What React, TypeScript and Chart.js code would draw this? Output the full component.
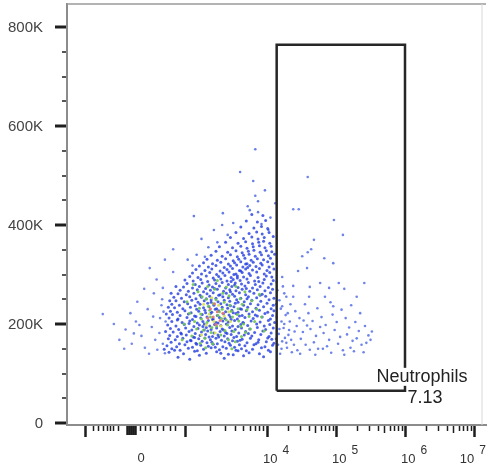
import { useEffect, useRef } from "react";
import { Chart, registerables } from "chart.js";
Chart.register(...registerables);

// x is in display decades (biexponential display: 4 = 10^4), y in thousands (K)
const X_MIN = 1.101;
const X_MAX = 7.174;
const Y_MIN = -4;
const Y_MAX = 846.5;

const yLabelTicks = [0, 200, 400, 600, 800];
const yMinorTicks = [50, 100, 150, 250, 300, 350, 450, 500, 550, 650, 700, 750];
const xMajorTicks = [1.362, 2.812, 4, 5, 6, 7];
const xZeroTicks = [1.971, 2.0, 2.029, 2.058, 2.087];
const xMinorTicks = [1.478, 1.551, 1.623, 1.681, 1.725, 1.768, 1.841, 2.159, 2.232, 2.304, 2.406, 2.493, 2.594, 2.667,
  3.174, 3.391, 3.536, 3.652, 3.754, 3.826, 3.884, 3.942];
const logFractions = [0.301, 0.477, 0.602, 0.699, 0.778, 0.845, 0.903, 0.954];
const logDecades = [4, 5, 6];
const xTickLabels = [
  { value: 2.174, base: "0", exp: "" },
  { value: 4, base: "10", exp: "4" },
  { value: 5, base: "10", exp: "5" },
  { value: 6, base: "10", exp: "6" },
  { value: 7, base: "10", exp: "7" },
];

const gateX = [4.14, 6.0];
const gateY = [65, 764];
const gateName = "Neutrophils";
const gateValue = "7.13";

const blueMain: [number, number][] = [
  [2.71,133],[3.02,137],[3.38,131],[3.66,136],[3.95,134],[2.88,129],[3.51,138],
  [2.58,143],[2.79,140],[2.95,145],[3.12,141],[3.27,144],[3.44,139],[3.58,146],[3.74,142],[3.89,140],[4.05,144],[2.66,147],[3.33,141],
  [2.62,150],[2.74,147],[2.86,151],[2.99,146],[3.08,149],[3.19,152],[3.31,148],[3.41,151],[3.55,147],[3.63,150],[3.79,149],[3.92,152],[4.02,147],[2.51,149],[3.70,146],
  [2.55,156],[2.69,154],[2.81,158],[2.92,153],[3.04,157],[3.15,155],[3.22,159],[3.36,154],[3.47,157],[3.53,153],[3.68,156],[3.81,158],[3.97,154],[4.08,157],[2.98,159],[3.25,153],[3.60,158],
  [2.61,163],[2.73,160],[2.84,164],[2.97,161],[3.06,165],[3.13,162],[3.28,160],[3.39,164],[3.45,161],[3.57,165],[3.71,162],[3.84,160],[3.99,164],[4.10,161],[2.90,166],[3.20,163],[3.50,166],[3.87,163],
  [2.57,170],[2.67,168],[2.78,171],[2.89,167],[3.01,170],[3.10,172],[3.18,168],[3.26,171],[3.34,167],[3.43,170],[3.52,173],[3.64,169],[3.76,171],[3.88,168],[4.01,172],[4.07,169],[2.95,173],[3.30,174],[3.61,167],
  [2.59,177],[2.70,175],[2.83,178],[2.93,174],[3.03,177],[3.11,179],[3.21,175],[3.29,178],[3.38,176],[3.48,179],[3.56,175],[3.67,178],[3.78,176],[3.91,179],[4.03,175],[2.76,180],[3.16,174],[3.42,181],
  [2.64,184],[2.75,182],[2.87,185],[2.96,181],[3.05,184],[3.14,186],[3.23,182],[3.32,185],[3.40,183],[3.49,186],[3.59,182],[3.69,185],[3.82,183],[3.94,186],[4.06,182],[2.53,185],[3.09,188],[3.37,188],[3.73,181],
  [2.60,191],[2.72,189],[2.82,192],[2.91,188],[3.00,191],[3.12,193],[3.19,189],[3.27,192],[3.35,190],[3.46,193],[3.54,189],[3.63,192],[3.75,190],[3.86,193],[3.98,189],[4.09,192],[3.07,195],[3.58,195],
  [2.56,198],[2.68,196],[2.80,199],[2.94,195],[3.02,198],[3.09,200],[3.17,196],[3.24,199],[3.33,197],[3.41,200],[3.50,196],[3.62,199],[3.72,197],[3.85,200],[3.96,196],[4.04,199],[2.87,201],[3.29,202],[3.66,202],
  [2.62,205],[2.77,203],[2.88,206],[2.99,202],[3.07,205],[3.15,207],[3.26,203],[3.36,206],[3.44,204],[3.53,207],[3.65,203],[3.77,206],[3.90,204],[4.02,207],[4.11,203],[2.70,208],[3.21,209],[3.48,209],
  [2.58,212],[2.71,210],[2.84,213],[2.92,209],[3.04,212],[3.13,214],[3.22,210],[3.31,213],[3.39,211],[3.47,214],[3.57,210],[3.68,213],[3.80,211],[3.93,214],[4.05,210],[2.97,215],[3.60,216],[3.86,216],
  [2.63,219],[2.74,217],[2.86,220],[2.95,216],[3.06,219],[3.18,221],[3.28,217],[3.37,220],[3.45,218],[3.55,221],[3.64,217],[3.74,220],[3.83,218],[3.97,221],[4.08,217],[2.54,220],[3.11,223],[3.51,223],
  [2.60,226],[2.70,224],[2.81,227],[2.90,223],[3.01,226],[3.10,228],[3.20,224],[3.30,227],[3.40,225],[3.49,228],[3.58,224],[3.70,227],[3.79,225],[3.89,228],[4.01,224],[4.10,227],[3.25,230],[3.63,230],
  [2.66,233],[2.78,231],[2.89,234],[2.98,230],[3.08,233],[3.16,235],[3.27,231],[3.35,234],[3.43,232],[3.52,235],[3.61,231],[3.72,234],[3.84,232],[3.95,235],[4.06,231],[2.57,234],[3.47,237],
  [2.62,240],[2.73,238],[2.85,241],[2.96,237],[3.03,240],[3.14,242],[3.23,238],[3.33,241],[3.42,239],[3.54,242],[3.66,238],[3.76,241],[3.87,239],[4.00,242],[4.09,238],[3.19,244],[3.58,244],
  [2.68,247],[2.80,245],[2.91,248],[3.00,244],[3.09,247],[3.19,249],[3.29,245],[3.38,248],[3.46,246],[3.56,249],[3.67,245],[3.78,248],[3.91,246],[4.03,249],[2.59,247],[3.12,251],[3.71,251],
  [2.65,254],[2.76,252],[2.88,255],[2.97,251],[3.05,254],[3.17,256],[3.26,252],[3.36,255],[3.44,253],[3.53,256],[3.62,252],[3.73,255],[3.85,253],[3.98,256],[4.10,252],[3.30,258],[3.90,258],
  [2.71,261],[2.83,259],[2.94,262],[3.03,258],[3.13,261],[3.22,263],[3.32,259],[3.41,262],[3.50,260],[3.60,263],[3.69,259],[3.81,262],[3.93,260],[4.05,263],[2.61,262],[3.47,265],
  [2.74,268],[2.86,266],[2.99,269],[3.08,265],[3.18,268],[3.28,270],[3.37,266],[3.46,269],[3.55,267],[3.64,270],[3.75,266],[3.86,269],[3.97,267],[4.08,270],[3.24,272],[3.70,272],
  [2.79,275],[2.92,273],[3.02,276],[3.11,272],[3.21,275],[3.31,277],[3.40,273],[3.49,276],[3.58,274],[3.68,277],[3.79,273],[3.90,276],[4.02,274],[2.68,276],[3.53,279],
  [2.84,282],[2.96,280],[3.06,283],[3.16,279],[3.26,282],[3.35,284],[3.44,280],[3.54,283],[3.63,281],[3.73,284],[3.83,280],[3.94,283],[4.06,281],[3.48,286],[3.88,286],
  [2.81,289],[2.93,287],[3.04,290],[3.14,286],[3.24,289],[3.33,291],[3.42,287],[3.51,290],[3.61,288],[3.71,291],[3.82,287],[3.96,290],[4.09,288],[3.57,293],
  [2.88,296],[3.00,294],[3.12,297],[3.22,293],[3.30,296],[3.39,298],[3.48,294],[3.57,297],[3.66,295],[3.76,298],[3.87,294],[3.99,297],[4.07,295],[3.52,300],
  [2.92,303],[3.05,301],[3.17,304],[3.27,300],[3.36,303],[3.45,305],[3.55,301],[3.64,304],[3.74,302],[3.85,305],[3.96,301],[4.04,304],[3.62,307],
  [2.97,310],[3.10,308],[3.20,311],[3.32,307],[3.42,310],[3.50,312],[3.60,308],[3.69,311],[3.79,309],[3.89,312],[4.00,308],[4.10,311],[3.72,314],
  [3.02,317],[3.15,315],[3.26,318],[3.38,314],[3.47,317],[3.56,319],[3.65,315],[3.75,318],[3.84,316],[3.93,319],[4.03,315],[3.69,321],
  [3.08,324],[3.21,322],[3.33,325],[3.44,321],[3.53,324],[3.62,326],[3.71,322],[3.80,325],[3.91,323],[4.01,326],[4.08,322],
  [3.13,331],[3.28,329],[3.40,332],[3.51,328],[3.59,331],[3.68,333],[3.77,329],[3.86,332],[3.95,330],[4.05,333],
  [3.19,339],[3.35,337],[3.47,340],[3.57,336],[3.66,339],[3.74,341],[3.83,337],[3.92,340],[4.02,338],[4.11,341],
  [3.26,347],[3.43,345],[3.55,348],[3.64,344],[3.73,347],[3.81,349],[3.90,345],[3.99,348],[4.07,346],
  [3.31,356],[3.50,354],[3.62,357],[3.71,353],[3.80,356],[3.89,358],[3.97,354],[4.06,357],
  [3.40,365],[3.58,363],[3.69,366],[3.79,362],[3.88,365],[3.95,367],[4.04,363],
  [3.47,375],[3.66,373],[3.78,376],[3.87,372],[3.96,375],[4.09,377],
  [3.55,385],[3.74,383],[3.85,386],[3.93,382],[4.03,385],
  [3.62,396],[3.81,394],[3.92,397],[4.01,393],
  [3.70,408],[3.86,406],[3.98,409],
  [3.78,421],[3.94,419],
];

const blueUpper: [number, number][] = [
  [3.83,553],[3.61,507],[3.80,489],[3.83,459],[3.87,448],[3.72,438],[3.75,430],[3.87,426],[4.12,444],[3.97,470],
  [4.05,415],[3.92,402],[4.02,390],[2.94,418],[3.36,424],[3.23,390],[3.51,404],[3.35,400],[3.05,372],[3.15,355],
  [2.98,340],[3.28,365],[3.43,380],[3.10,336],[2.85,330],[2.92,318],
];

const blueLeft: [number, number][] = [
  [1.62,220],[1.86,168],[1.95,189],[2.04,160],[2.10,205],[2.18,176],[2.23,152],[2.27,230],[2.33,194],[2.38,168],
  [2.41,148],[2.45,212],[2.48,250],[2.36,262],[2.22,271],[2.12,245],[2.02,222],[1.93,150],[2.29,140],[2.44,182],
  [2.49,160],[2.40,290],[2.30,313],[2.49,273],[2.64,305],[2.64,351],[2.52,330],[2.15,198],[2.07,181],[1.78,200],
  [2.35,215],[2.47,238],[2.52,141],[2.53,205],[2.50,225],
];

const blueGate: [number, number][] = [
  [4.59,497],[4.38,432],[4.46,432],[4.97,410],[5.10,380],[4.68,370],[4.64,351],[4.59,345],[4.51,337],[4.83,333],
  [4.96,323],[4.58,313],[4.45,307],[4.22,295],[5.04,283],[5.41,283],[4.77,283],[4.38,277],[4.62,275],[4.90,273],
  [5.12,271],[5.30,255],[4.38,255],[4.61,255],[4.84,255],[4.96,236],
  [4.20,231],[4.27,218],[4.33,205],[4.24,192],[4.31,178],[4.22,165],[4.29,152],[4.36,143],[4.41,226],[4.47,212],
  [4.43,196],[4.52,184],[4.49,170],[4.56,158],[4.44,147],[4.60,222],[4.66,206],[4.63,190],[4.71,176],[4.68,163],
  [4.74,150],[4.79,214],[4.85,198],[4.82,182],[4.90,168],[4.87,155],[4.95,219],[5.01,204],[4.98,188],[5.06,174],
  [5.03,160],[5.10,147],[5.14,212],[5.19,193],[5.16,179],[5.24,166],[5.21,152],[5.28,204],[5.33,186],[5.30,171],
  [5.37,158],[5.42,196],[5.47,177],[5.44,162],[5.52,185],[5.50,168],[4.18,248],[4.25,262],[4.21,205],[4.17,180],
  [4.16,158],[4.19,140],[4.34,240],[4.39,158],[4.55,240],[4.58,197],[4.62,148],[4.73,232],[4.77,194],[4.92,244],
  [5.08,229],[5.22,238],[5.35,222],[4.48,140],[4.70,138],[4.93,142],[5.12,138],[4.35,168],[4.40,185],[4.26,172],
  [4.53,207],[4.81,150],[5.26,145],[5.40,143],
  [4.14,285],[4.23,276],[4.15,268],[4.28,255],[4.13,240],[4.22,236],[4.30,222],[4.14,214],[4.25,200],[4.18,190],
  [4.32,188],[4.13,170],[4.21,150],[4.28,162],
];

const greenCore: [number, number][] = [
  [2.95,205],[3.02,232],[3.08,188],[3.12,250],[3.18,214],[3.22,241],[3.27,196],[3.31,225],[3.36,262],[3.41,208],
  [3.46,238],[3.52,185],[3.57,219],[3.61,251],[3.66,200],[3.71,229],[2.88,222],[2.91,176],[3.00,265],[3.05,210],
  [3.10,171],[3.15,236],[3.20,193],[3.24,270],[3.29,217],[3.33,178],[3.38,244],[3.43,198],[3.48,226],[3.54,164],
  [3.59,206],[3.64,240],[3.69,183],[3.74,215],[2.84,245],[2.98,190],[3.06,255],[3.13,203],[3.17,228],[3.26,249],
  [3.34,211],[3.39,187],[3.45,257],[3.50,214],[3.62,195],[3.78,247],[3.82,205],[2.80,200],[3.03,161],[3.21,160],
  [3.44,168],[3.63,175],[3.76,190],[3.55,276],[3.85,230],[3.92,214],[2.93,280],[3.28,288],[3.14,276],[3.68,265],
  [3.89,260],[3.96,186],[2.77,168],[3.49,150],[3.11,152],[3.35,230],[3.19,183],[3.58,231],[3.04,220],[3.41,275],
];

const yellowCore: [number, number][] = [
  [3.16,220],[3.23,205],[3.30,238],[3.12,198],[3.38,216],[3.25,182],[3.08,240],[3.44,225],[3.20,253],[3.33,196],
  [3.47,205],[3.05,178],
];

const redCore: [number, number][] = [
  [3.22,214],[3.28,225],[3.18,231],[3.32,207],[3.26,199],[3.14,212],[3.36,222],[3.24,241],
];

const FONT = "'Liberation Sans', Arial, Helvetica, sans-serif";

const toXY = (arr: [number, number][]) => arr.map(([x, y]) => ({ x, y }));

const decorPlugin: any = {
  id: "decor",
  afterDatasetsDraw(chart: any) {
    const { ctx, scales } = chart;
    const xs = scales.x, ys = scales.y;
    const rx = xs.getPixelForValue(gateX[1]);
    const by = ys.getPixelForValue(gateY[0]);
    ctx.save();
    ctx.font = `18px ${FONT}`;
    ctx.textAlign = "center";
    ctx.textBaseline = "middle";
    const cx = rx + 17;
    const w = ctx.measureText(gateName).width;
    ctx.fillStyle = "#ffffff";
    ctx.fillRect(cx - w / 2 - 1, by - 23, w + 2, 18);
    ctx.fillStyle = "#222";
    ctx.fillText(gateName, cx, by - 14);
    ctx.fillText(gateValue, rx + 20, by + 7);
    ctx.restore();
  },
  afterDraw(chart: any) {
    const { ctx, chartArea, scales } = chart;
    const xs = scales.x, ys = scales.y;
    ctx.save();
    // top frame line
    ctx.strokeStyle = "#9a9a9a";
    ctx.lineWidth = 1.5;
    ctx.beginPath();
    ctx.moveTo(chartArea.left, chartArea.top);
    ctx.lineTo(chartArea.right, chartArea.top);
    ctx.stroke();
    ctx.strokeStyle = "#d8d8d8";
    ctx.lineWidth = 1;
    ctx.beginPath();
    ctx.moveTo(chartArea.right - 4, chartArea.top);
    ctx.lineTo(chartArea.right - 4, chartArea.bottom);
    ctx.stroke();

    const left = chartArea.left - 1;
    const bottom = chartArea.bottom + 1;
    ctx.strokeStyle = "#1e1e1e";
    // y ticks
    const yTick = (v: number, len: number, wid: number) => {
      const p = Math.round(ys.getPixelForValue(v));
      ctx.lineWidth = wid;
      ctx.beginPath();
      ctx.moveTo(left - len, p);
      ctx.lineTo(left, p);
      ctx.stroke();
    };
    yLabelTicks.forEach((v) => yTick(v, 11, 3));
    yMinorTicks.forEach((v) => yTick(v, 4, 1.5));
    // y labels
    ctx.fillStyle = "#444";
    ctx.font = `15px ${FONT}`;
    ctx.textAlign = "right";
    ctx.textBaseline = "middle";
    yLabelTicks.forEach((v) => {
      const p = ys.getPixelForValue(v);
      ctx.fillText(v === 0 ? "0" : `${v}K`, 43, p + 1);
    });
    // x ticks
    const xTick = (v: number, len: number, wid: number) => {
      const p = Math.round(xs.getPixelForValue(v)) + 0.5;
      ctx.lineWidth = wid;
      ctx.beginPath();
      ctx.moveTo(p, bottom);
      ctx.lineTo(p, bottom + len);
      ctx.stroke();
    };
    xMajorTicks.forEach((v) => xTick(v, 11, 2.5));
    xZeroTicks.forEach((v) => xTick(v, 9, 2.5));
    xMinorTicks.forEach((v) => xTick(v, 5, 1.5));
    logDecades.forEach((d) => logFractions.forEach((f, i) => xTick(d + f, i === 3 ? 7 : 5, 1.5)));
    // x labels
    ctx.fillStyle = "#333";
    ctx.textBaseline = "alphabetic";
    ctx.textAlign = "left";
    xTickLabels.forEach((t) => {
      const p = xs.getPixelForValue(t.value);
      ctx.font = `13px ${FONT}`;
      const bw = ctx.measureText(t.base).width;
      if (!t.exp) {
        ctx.fillText(t.base, p - bw / 2, 462);
        return;
      }
      ctx.font = `12px ${FONT}`;
      const ew = ctx.measureText(t.exp).width;
      const gap = 5;
      let x0 = p - 4;
      const total = bw + gap + ew;
      if (x0 + total > chart.width - 2) x0 = chart.width - 2 - total;
      ctx.font = `13px ${FONT}`;
      ctx.fillText(t.base, x0, 463);
      ctx.font = `12px ${FONT}`;
      ctx.fillText(t.exp, x0 + bw + gap, 454);
    });
    ctx.restore();
  },
};

export default function App() {
  const ref = useRef<HTMLCanvasElement | null>(null);
  useEffect(() => {
    if (!ref.current) return;
    const pt = (data: [number, number][], color: string, r: number) => ({
      data: toXY(data),
      backgroundColor: color,
      borderWidth: 0,
      pointRadius: r,
      pointHoverRadius: r,
    });
    const chart = new Chart(ref.current, {
      type: "scatter",
      data: {
        datasets: [
          {
            data: [
              { x: gateX[0], y: gateY[0] },
              { x: gateX[0], y: gateY[1] },
              { x: gateX[1], y: gateY[1] },
              { x: gateX[1], y: gateY[0] },
              { x: gateX[0], y: gateY[0] },
            ],
            showLine: true,
            borderColor: "#262626",
            borderWidth: 2.5,
            pointRadius: 0,
            fill: false,
          } as any,
          pt(redCore, "rgba(225,120,120,0.95)", 1.5),
          pt(yellowCore, "rgba(215,225,90,0.95)", 1.5),
          pt(greenCore, "rgba(110,200,80,0.9)", 1.5),
          pt(blueMain, "rgba(35,60,225,0.8)", 1.5),
          pt(blueUpper, "rgba(50,80,225,0.75)", 1.3),
          pt(blueLeft, "rgba(55,85,225,0.7)", 1.3),
          pt(blueGate, "rgba(50,80,225,0.7)", 1.3),
        ],
      },
      options: {
        animation: false,
        responsive: false,
        maintainAspectRatio: false,
        events: [],
        layout: { padding: { top: 4, right: 2, left: 0, bottom: 0 } },
        plugins: { legend: { display: false }, tooltip: { enabled: false } },
        scales: {
          x: {
            type: "linear",
            min: X_MIN,
            max: X_MAX,
            afterFit: (s: any) => { s.height = 44; },
            ticks: { display: false, padding: 0 },
            grid: { display: false, drawTicks: false },
            border: { display: true, color: "#8c8c8c", width: 2 },
          },
          y: {
            type: "linear",
            min: Y_MIN,
            max: Y_MAX,
            afterFit: (s: any) => { s.width = 67; },
            ticks: { display: false, padding: 0 },
            grid: { display: false, drawTicks: false },
            border: { display: true, color: "#8c8c8c", width: 2 },
          },
        },
      } as any,
      plugins: [decorPlugin],
    });
    return () => chart.destroy();
  }, []);
  return (
    <div style={{ position: "absolute", left: 0, top: 0, width: 488, height: 469, background: "#fff" }}>
      <canvas ref={ref} width={488} height={469} style={{ display: "block" }} />
    </div>
  );
}
